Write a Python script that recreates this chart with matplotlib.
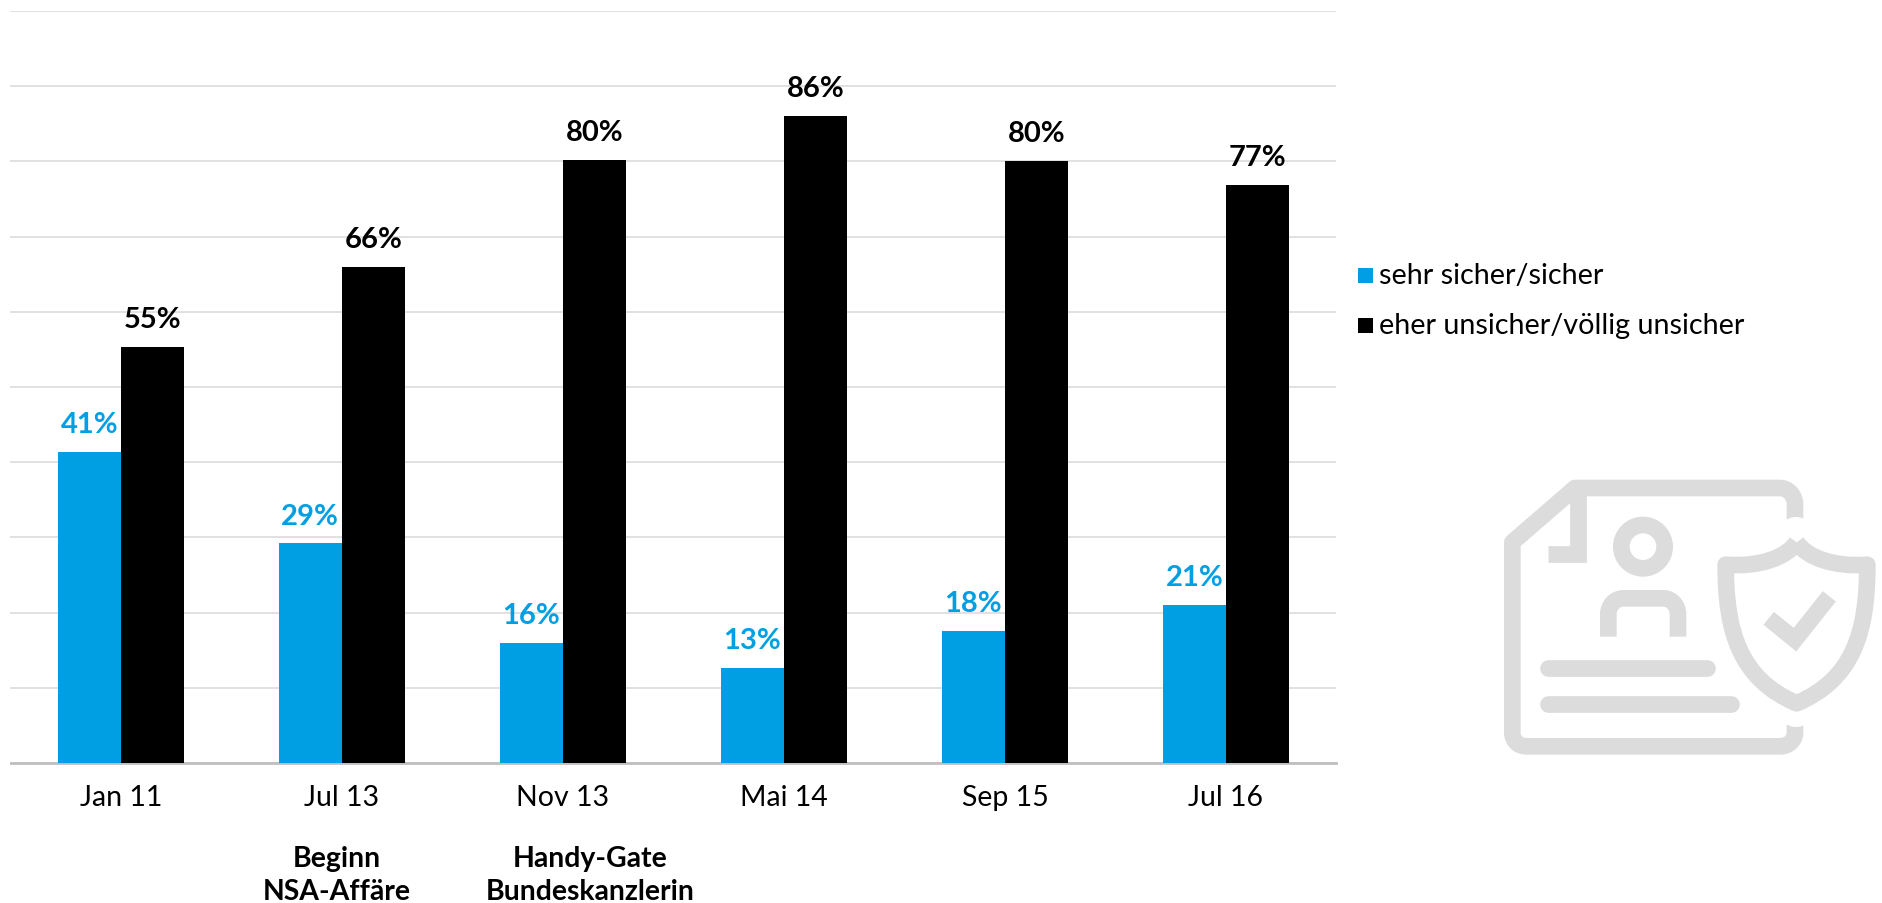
## Sicherheit der Daten - survey bars with legend and icon

import numpy as np
import matplotlib.pyplot as plt
from matplotlib.path import Path
from matplotlib.patches import PathPatch, Circle, Rectangle

plt.rcParams['font.family'] = ['Lato', 'DejaVu Sans']

months = ['Jan 11', 'Jul 13', 'Nov 13', 'Mai 14', 'Sep 15', 'Jul 16']
sicher = [41.4, 29.2, 16.0, 12.6, 17.6, 21.0]
unsicher = [55.3, 66.0, 80.2, 86.1, 80.1, 76.9]
legend_labels = ['sehr sicher/sicher', 'eher unsicher/völlig unsicher']
event_labels = ['Beginn\nNSA-Affäre', 'Handy-Gate\nBundeskanzlerin']
event_x = [337, 590]

BLUE = '#009fe3'
W, H = 1883, 904

fig = plt.figure(figsize=(W / 100, H / 100), dpi=100)
ax = fig.add_axes([10.5 / W, 1 - 764 / H, 1326 / W, 752 / H])

x = np.arange(len(months))
bar_w = 0.287
ax.bar(x - bar_w / 2, sicher, bar_w, color=BLUE, zorder=3)
ax.bar(x + bar_w / 2, unsicher, bar_w, color='black', zorder=3)

# value labels above the bars
for i in x:
    ax.annotate(f'{sicher[i]:.0f}%', (i - bar_w / 2, sicher[i]), xytext=(0, 20),
                textcoords='offset points', ha='center', va='center',
                color=BLUE, fontsize=21, fontweight='bold')
    ax.annotate(f'{unsicher[i]:.0f}%', (i + bar_w / 2, unsicher[i]), xytext=(0, 20),
                textcoords='offset points', ha='center', va='center',
                color='black', fontsize=21, fontweight='bold')

ax.set_xlim(-0.5, 5.5)
ax.set_ylim(0, 100)
ax.set_yticks(np.arange(0, 101, 10))
ax.set_xticks(x)
ax.set_xticklabels(months, fontsize=20.5)
ax.tick_params(axis='x', length=0, pad=15)
ax.tick_params(axis='y', length=0, labelleft=False)
ax.grid(axis='y', color='#d9d9d9', lw=1.1, zorder=0)
ax.set_axisbelow(True)
for side in ['top', 'right', 'left']:
    ax.spines[side].set_visible(False)
ax.spines['bottom'].set_color('#bfbfbf')
ax.spines['bottom'].set_linewidth(2)

# overlay in pixel coordinates for the legend, notes and icon
ov = fig.add_axes([0, 0, 1, 1])
ov.set_xlim(0, W)
ov.set_ylim(H, 0)
ov.axis('off')
ov.patch.set_alpha(0)

for y, color, label in zip([276.5, 326.5], [BLUE, 'black'], legend_labels):
    ov.add_patch(Rectangle((1358, y - 7.5), 15, 15, color=color, lw=0))
    ov.text(1379, y, label, fontsize=20.7, va='center', ha='left')

for ex, label in zip(event_x, event_labels):
    ov.text(ex, 875.5, label, fontsize=20.4, fontweight='bold',
            ha='center', va='center', linespacing=1.33)


def pt(zx, zy):
    return 1480 + zx / 3, 460 + zy / 3


def stroke(verts, codes=None, cap='butt', join='round', color='#dcdcdc', lw=12, z=5):
    verts = [pt(*v) for v in verts]
    if codes is None:
        codes = [Path.MOVETO] + [Path.LINETO] * (len(verts) - 1)
    ov.add_patch(PathPatch(Path(verts, codes), fill=False, edgecolor=color, lw=lw,
                           capstyle=cap, joinstyle=join, zorder=z))


M, L, C = Path.MOVETO, Path.LINETO, Path.CURVE4

# document outline
stroke([(945, 230), (945, 135), (945, 110), (925, 87), (900, 87), (285, 87), (97, 250),
        (97, 820), (97, 845), (115, 862), (140, 862), (900, 862), (925, 862), (945, 845),
        (945, 820), (945, 750)],
       [M, L, C, C, C, L, L, L, C, C, C, L, C, C, C, L])
stroke([(293, 100), (293, 285), (205, 285)], join='miter')
# person
cx, cy = pt(489, 263)
ov.add_patch(Circle((cx, cy), 65 / 3, fill=False, edgecolor='#dcdcdc', lw=12, zorder=5))
stroke([(385, 533), (385, 465), (385, 440), (405, 418), (430, 418), (550, 418), (575, 418),
        (594, 440), (594, 465), (594, 533)],
       [M, L, C, C, C, L, C, C, C, L])
# text lines
stroke([(203, 628), (682, 628)], cap='round')
stroke([(203, 735), (752, 735)], cap='round')
# white notches where the shield sits on the outline
for zy in (228, 750):
    nx, ny = pt(948, zy)
    ov.add_patch(Circle((nx, ny), 18, color='white', lw=0, zorder=6))
# shield
stroke([(950, 250), (920, 295), (840, 325), (737, 317), (737, 520), (780, 660), (950, 733),
        (1120, 660), (1162, 520), (1162, 317), (1060, 325), (980, 295), (950, 250)],
       [M, C, C, C, C, C, C, C, C, C, C, C, C], z=7)
# check mark
stroke([(866, 478), (945, 542), (1048, 412)], join='miter', z=7)

fig.savefig('out.png', dpi=100)
